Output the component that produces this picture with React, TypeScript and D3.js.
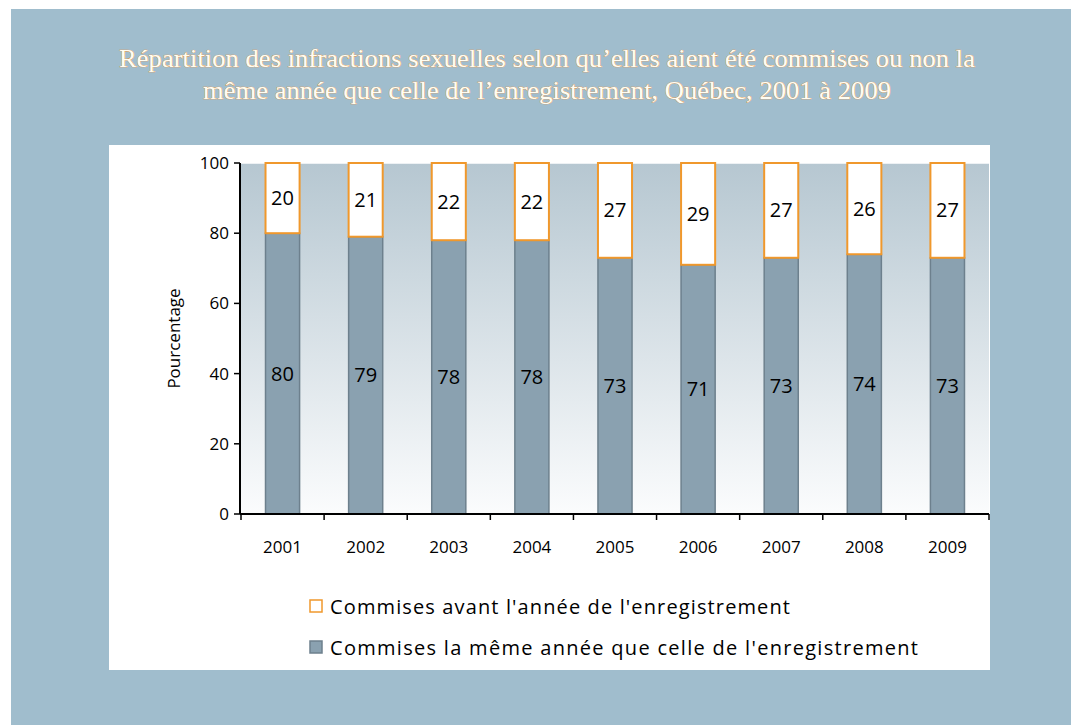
import React from "react";
import * as d3 from "d3";

const years = ["2001", "2002", "2003", "2004", "2005", "2006", "2007", "2008", "2009"];
const sameYear = [80, 79, 78, 78, 73, 71, 73, 74, 73];
const before = [20, 21, 22, 22, 27, 29, 27, 26, 27];
const yTicks = [0, 20, 40, 60, 80, 100];
const legendLabels = [
  "Commises avant l'année de l'enregistrement",
  "Commises la même année que celle de l'enregistrement",
];
const titleLines = [
  "Répartition des infractions sexuelles selon qu’elles aient été commises ou non la",
  "même année que celle de l’enregistrement, Québec, 2001 à 2009",
];

const W = 1071;
const H = 725;
const font = "'Open Sans', 'DejaVu Sans', sans-serif";
const titleWidths = [856, 688];
const legendWidths = [460, 588];

const App = () => {
  const x = d3.scaleBand().domain(years).range([241, 989]).paddingInner(0.59).paddingOuter(0.295);
  const band = d3.scaleBand().domain(years).range([241, 989]);
  const y = d3.scaleLinear().domain([0, 100]).range([514, 163]);

  return (
    <svg width={W} height={H} style={{ position: "absolute", left: 0, top: 0 }}>
      <defs>
        <linearGradient id="plotBg" x1="0" y1="0" x2="0" y2="1">
          <stop offset="0%" stopColor="#b6c7d1" />
          <stop offset="100%" stopColor="#fbfcfd" />
        </linearGradient>
      </defs>
      <rect x={0} y={0} width={W} height={H} fill="#ffffff" />
      <rect x={11} y={9} width={W - 11} height={H - 9} fill="#a0bdcd" />

      {/* title */}
      {titleLines.map((t, i) => (
        <text
          key={i}
          x={547}
          y={67 + i * 32}
          textAnchor="middle"
          fontFamily="'Liberation Serif', 'DejaVu Serif', serif"
          fontSize={26}
          textLength={titleWidths[i]}
          lengthAdjust="spacingAndGlyphs"
          fill="#fffdf2"
          stroke="#e39a4a"
          strokeWidth={0.7}
          paintOrder="stroke"
        >
          {t}
        </text>
      ))}

      <rect x={109} y={145} width={881} height={525} fill="#ffffff" />
      <rect x={241} y={163} width={748} height={351} fill="url(#plotBg)" />
      <line x1={241} x2={989} y1={y(100)} y2={y(100)} stroke="#ffffff" strokeWidth={1.5} />

      {/* bars */}
      {years.map((yr, i) => (
        <g key={yr}>
          <rect
            x={x(yr)}
            y={y(sameYear[i])}
            width={x.bandwidth()}
            height={y(0) - y(sameYear[i])}
            fill="#8aa1b0"
            stroke="#6d808d"
            strokeWidth={1.5}
          />
          <rect
            x={x(yr)}
            y={y(sameYear[i] + before[i])}
            width={x.bandwidth()}
            height={y(sameYear[i]) - y(sameYear[i] + before[i])}
            fill="#ffffff"
            stroke="#f0982c"
            strokeWidth={2}
          />
          <text
            x={x(yr)! + x.bandwidth() / 2}
            y={y(sameYear[i] / 2)}
            dy="0.35em"
            textAnchor="middle"
            fontFamily={font}
            fontSize={20}
            fill="#000"
          >
            {sameYear[i]}
          </text>
          <text
            x={x(yr)! + x.bandwidth() / 2}
            y={y(sameYear[i] + before[i] / 2)}
            dy="0.35em"
            textAnchor="middle"
            fontFamily={font}
            fontSize={20}
            fill="#000"
          >
            {before[i]}
          </text>
        </g>
      ))}

      {/* y axis */}
      <line x1={240} x2={240} y1={y(100)} y2={y(0)} stroke="#000" strokeWidth={2} />
      {yTicks.map((t) => (
        <g key={t}>
          <line x1={234} x2={240} y1={y(t)} y2={y(t)} stroke="#000" strokeWidth={1.5} />
          <text x={229} y={y(t)} dy="0.35em" textAnchor="end" fontFamily={font} fontSize={17}>
            {t}
          </text>
        </g>
      ))}
      <text
        transform={`translate(180,${y(50)}) rotate(-90)`}
        textAnchor="middle"
        fontFamily={font}
        fontSize={17}
      >
        Pourcentage
      </text>

      {/* x axis */}
      <line x1={240} x2={989} y1={y(0)} y2={y(0)} stroke="#000" strokeWidth={2} />
      {[...years.map((yr) => band(yr)!), 989].map((p, i) => (
        <line key={i} x1={p} x2={p} y1={y(0)} y2={y(0) + 6} stroke="#000" strokeWidth={1.5} />
      ))}
      {years.map((yr) => (
        <text
          key={yr}
          x={band(yr)! + band.bandwidth() / 2}
          y={547}
          dy="0.35em"
          textAnchor="middle"
          fontFamily={font}
          fontSize={17}
        >
          {yr}
        </text>
      ))}

      {/* legend */}
      {legendLabels.map((l, i) => (
        <g key={l} transform={`translate(310,${600 + i * 41})`}>
          <rect
            x={0}
            y={0}
            width={12}
            height={12}
            fill={i === 0 ? "#ffffff" : "#8aa1b0"}
            stroke={i === 0 ? "#f0982c" : "#6d808d"}
            strokeWidth={1.5}
          />
          <text
            x={20}
            y={6}
            dy="0.38em"
            fontFamily={font}
            fontSize={20}
            textLength={legendWidths[i]}
            lengthAdjust="spacing"
          >
            {l}
          </text>
        </g>
      ))}
    </svg>
  );
};

export default App;
